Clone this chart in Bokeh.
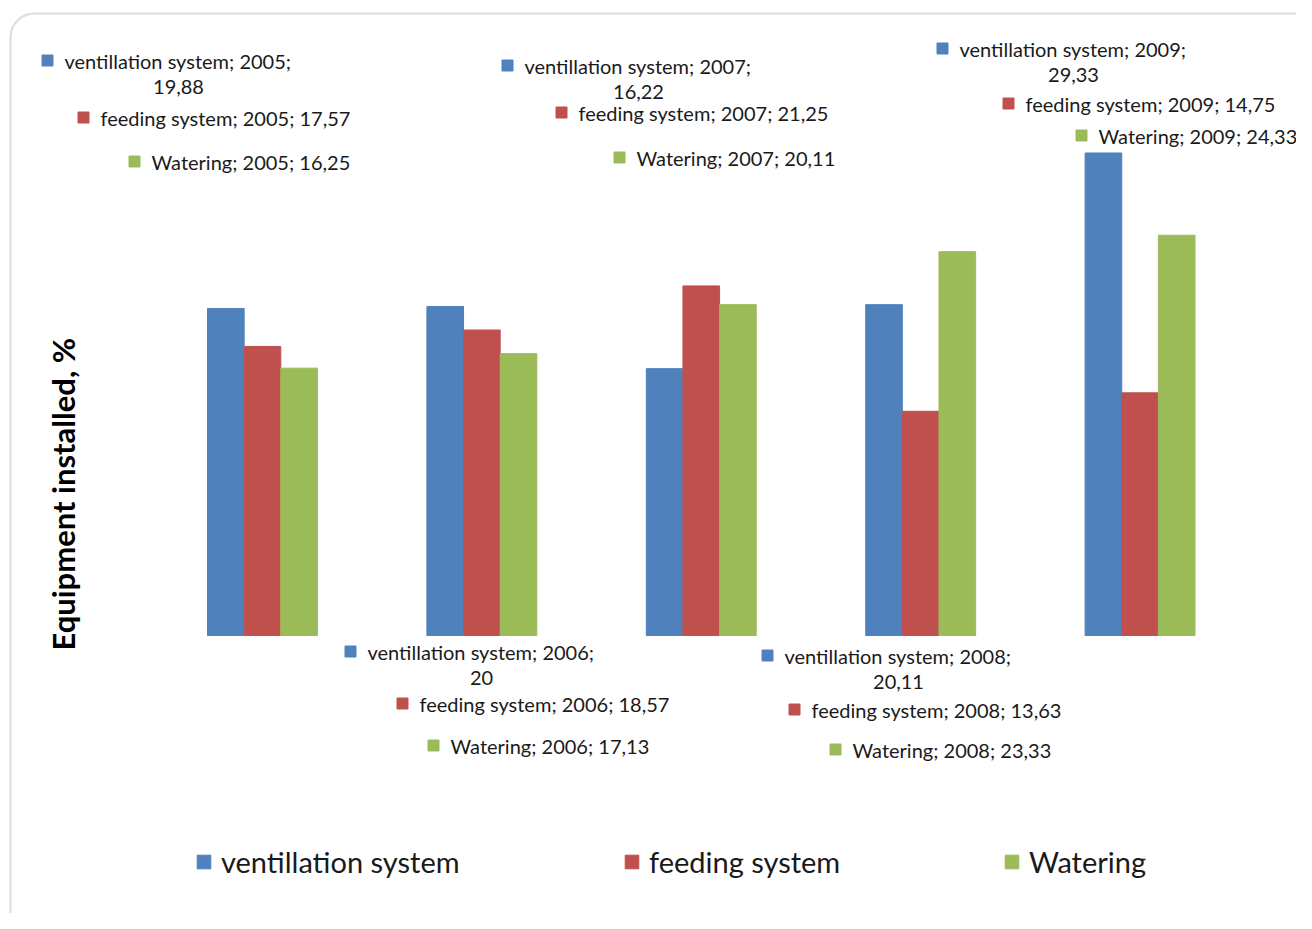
import math
from bokeh.plotting import figure
from bokeh.models import Range1d, ColumnDataSource, Legend, LegendItem, Label, BoxAnnotation
from bokeh.core.properties import value
from bokeh.transform import dodge
from bokeh.embed import file_html
from bokeh.resources import INLINE

# ---------------- data ----------------
years = [2005, 2006, 2007, 2008, 2009]
ventilation = [19.88, 20, 16.22, 20.11, 29.33]
feeding = [17.57, 18.57, 21.25, 13.63, 14.75]
watering = [16.25, 17.13, 20.11, 23.33, 24.33]
series_names = ["ventillation system", "feeding system", "Watering"]
y_title = "Equipment  installed, %"

# ---------------- styling / placement ----------------
colors = ["#4F81BD", "#C0504D", "#9BBB59"]
FONT = "Lato"
TXT = "#1a1a1a"
# pixel anchors (text start) of the dragged data labels, per series, per year
label_anchor = [
    [(64, 60), (367, 651), (524, 65), (784, 655), (959, 48)],
    [(100, 117), (419, 703), (578, 112), (811, 709), (1025, 103)],
    [(151, 161), (450, 745), (636, 157), (852, 749), (1098, 135)],
]
legend_locs = [(195, 34), (623, 34), (1003, 34)]

W, H = 1296, 913


def fmt(v):
    s = f"{v:.2f}".rstrip("0").rstrip(".")
    return s.replace(".", ",")


p = figure(width=W, height=H, output_backend="svg", toolbar_location=None, title=None,
           x_range=Range1d(2003.806, 2009.713), y_range=Range1d(-16.90, 38.60),
           x_axis_type=None, y_axis_type=None, min_border=0, outline_line_color=None)
p.grid.visible = False
p.background_fill_color = "white"
p.border_fill_color = "white"

p.extra_x_ranges = {"px": Range1d(0, W)}
p.extra_y_ranges = {"px": Range1d(H, 0)}

# rounded frame border
p.add_layout(BoxAnnotation(left=10, right=1321, top=13, bottom=939, x_range_name="px", y_range_name="px",
                           fill_alpha=0, line_color="#8c8c8c", line_width=2, border_radius=24))

src = ColumnDataSource(dict(year=years, v0=ventilation, v1=feeding, v2=watering))
bw = 0.167
renderers = []
for i, col in enumerate(["v0", "v1", "v2"]):
    r = p.vbar(x=dodge("year", (i - 1) * bw, range=p.x_range), top=col, bottom=0, width=bw, source=src,
               fill_color=colors[i], line_color=colors[i], line_width=1)
    renderers.append(r)

# data labels
series_vals = [ventilation, feeding, watering]
for si in range(3):
    xs, ys, texts = [], [], []
    sqx, sqy = [], []
    x2, y2, t2 = [], [], []
    for yi, yr in enumerate(years):
        ax, ay = label_anchor[si][yi]
        sqx.append(ax - 17)
        sqy.append(ay)
        if si == 0:
            xs.append(ax); ys.append(ay); texts.append(f"{series_names[si]}; {yr};")
            x2.append(ax + 114); y2.append(ay + 26); t2.append(fmt(series_vals[si][yi]))
        else:
            xs.append(ax); ys.append(ay)
            texts.append(f"{series_names[si]}; {yr}; {fmt(series_vals[si][yi])}")
    p.scatter(x=sqx, y=sqy, marker="square", size=11, fill_color=colors[si], line_color=colors[si],
              x_range_name="px", y_range_name="px")
    p.text(x=xs, y=ys, text=texts, x_range_name="px", y_range_name="px", text_font=value(FONT),
           text_font_size="20px", text_baseline="middle", text_align="left", text_color=TXT)
    if x2:
        p.text(x=x2, y=y2, text=t2, x_range_name="px", y_range_name="px", text_font=value(FONT),
               text_font_size="20px", text_baseline="middle", text_align="center", text_color=TXT)

# y title
p.add_layout(Label(x=62, y=H - 490, x_units="screen", y_units="screen", text=y_title, angle=math.pi / 2,
                   text_align="center", text_baseline="middle", text_font=FONT, text_font_style="bold",
                   text_font_size="31px", text_color="black"))

# legends
for name, r, loc in zip(series_names, renderers, legend_locs):
    lg = Legend(items=[LegendItem(label=name, renderers=[r])], location=loc, orientation="horizontal",
                glyph_width=17, glyph_height=17, label_standoff=9, padding=0, margin=0,
                border_line_color=None, background_fill_alpha=0, label_text_font=FONT,
                label_text_font_size="29px", label_text_color=TXT)
    p.add_layout(lg)

open("out.html", "w").write(file_html(p, INLINE))
